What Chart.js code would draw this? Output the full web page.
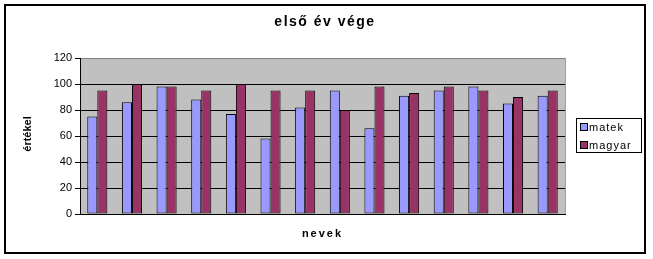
<!DOCTYPE html>
<html>
<head>
<meta charset="utf-8">
<script src="https://cdn.jsdelivr.net/npm/chart.js@4/dist/chart.umd.min.js"></script>
<style>
    body { margin: 0; background: #fff; }
    #wrap { position: relative; width: 653px; height: 259px; }
</style>
</head>
<body>
<div id="wrap"><canvas id="chart" width="653" height="259"></canvas></div>
<script>
var names = ["1", "2", "3", "4", "5", "6", "7", "8", "9", "10", "11", "12", "13", "14"];
var matek = [75, 86, 98, 88, 77, 58, 82, 95, 66, 91, 95, 98, 85, 91];
var magyar = [95, 100, 98, 95, 100, 95, 95, 80, 98, 93, 98, 95, 90, 95];
var yTicks = [0, 20, 40, 60, 80, 100, 120];

var chartTitle = "első év vége";
var xTitle = "nevek";
var yTitle = "értékel";

// frame, grey plot area, titles and legend box
var excelLook = {
    id: "excelLook",
    beforeDraw: function (chart) {
        var ctx = chart.ctx;
        var a = chart.chartArea;
        ctx.save();
        ctx.fillStyle = "#fff";
        ctx.fillRect(0, 0, chart.width, chart.height);
        ctx.fillStyle = "#c0c0c0";
        ctx.fillRect(a.left, a.top, a.right - a.left, a.bottom - a.top);
        ctx.restore();
    },
    afterDraw: function (chart) {
        var ctx = chart.ctx;
        var a = chart.chartArea;
        ctx.save();
        // right edge of plot
        ctx.strokeStyle = "#a0a0a0";
        ctx.lineWidth = 1;
        ctx.beginPath();
        ctx.moveTo(Math.round(a.right) + 0.5, a.top);
        ctx.lineTo(Math.round(a.right) + 0.5, a.bottom);
        ctx.stroke();

        // outer frame
        ctx.strokeStyle = "#000";
        ctx.lineWidth = 2;
        ctx.strokeRect(5, 5, 640, 248);

        ctx.fillStyle = "#000";
        ctx.textAlign = "center";
        ctx.textBaseline = "middle";
        ctx.font = "bold 14px 'Liberation Sans', Arial, sans-serif";
        ctx.letterSpacing = "1.5px";
        ctx.fillText(chartTitle, 325, 22);

        ctx.font = "bold 11px 'Liberation Sans', Arial, sans-serif";
        ctx.letterSpacing = "2px";
        ctx.fillText(xTitle, (a.left + a.right) / 2, 234);

        ctx.letterSpacing = "0px";
        ctx.save();
        ctx.translate(28, 134);
        ctx.rotate(-Math.PI / 2);
        ctx.fillText(yTitle, 0, 0);
        ctx.restore();

        // legend
        ctx.lineWidth = 1;
        ctx.strokeRect(576.5, 118.5, 65, 34);
        ctx.textAlign = "left";
        ctx.font = "11px 'Liberation Sans', Arial, sans-serif";
        ctx.letterSpacing = "1px";
        chart.data.datasets.forEach(function (ds, i) {
            var y = 127 + i * 18;
            ctx.fillStyle = ds.backgroundColor;
            ctx.fillRect(580.5, y - 3.5, 7, 7);
            ctx.strokeStyle = "#000";
            ctx.strokeRect(580.5, y - 3.5, 7, 7);
            ctx.fillStyle = "#000";
            ctx.fillText(ds.label, 589, y + 1);
        });
        ctx.restore();
    },
};

var ctx = document.getElementById("chart").getContext("2d");
var chart = new Chart(ctx, {
    type: "bar",
    data: {
        labels: names,
        datasets: [
            {
                label: "matek",
                data: matek,
                backgroundColor: "#9999ff",
                borderColor: "#000",
                borderWidth: 1,
                borderSkipped: false,
            },
            {
                label: "magyar",
                data: magyar,
                backgroundColor: "#993366",
                borderColor: "#000",
                borderWidth: 1,
                borderSkipped: false,
            },
        ],
    },
    options: {
        responsive: false,
        animation: false,
        layout: {
            padding: { top: 58, right: 88, bottom: 0, left: 0 },
        },
        datasets: {
            bar: {
                barPercentage: 1,
                categoryPercentage: 0.58,
            },
        },
        plugins: {
            legend: { display: false },
            title: { display: false },
            tooltip: { enabled: false },
        },
        scales: {
            x: {
                ticks: { display: false },
                grid: { display: false },
                border: { color: "#000", width: 1 },
                afterFit: function (scale) {
                    scale.height = 45;
                },
            },
            y: {
                min: 0,
                max: 120,
                afterBuildTicks: function (scale) {
                    scale.ticks = yTicks.map(function (v) {
                        return { value: v };
                    });
                },
                ticks: {
                    color: "#000",
                    padding: 3,
                    font: { family: "'Liberation Sans', Arial, sans-serif", size: 11 },
                },
                grid: {
                    color: function (c) {
                        return c.tick && c.tick.value === 120 ? "#808080" : "#000";
                    },
                    tickColor: "#000",
                    tickLength: 5,
                    lineWidth: 1,
                },
                border: { color: "#000", width: 1 },
                afterFit: function (scale) {
                    scale.width = 80;
                },
            },
        },
    },
    plugins: [excelLook],
});
</script>
</body>
</html>
